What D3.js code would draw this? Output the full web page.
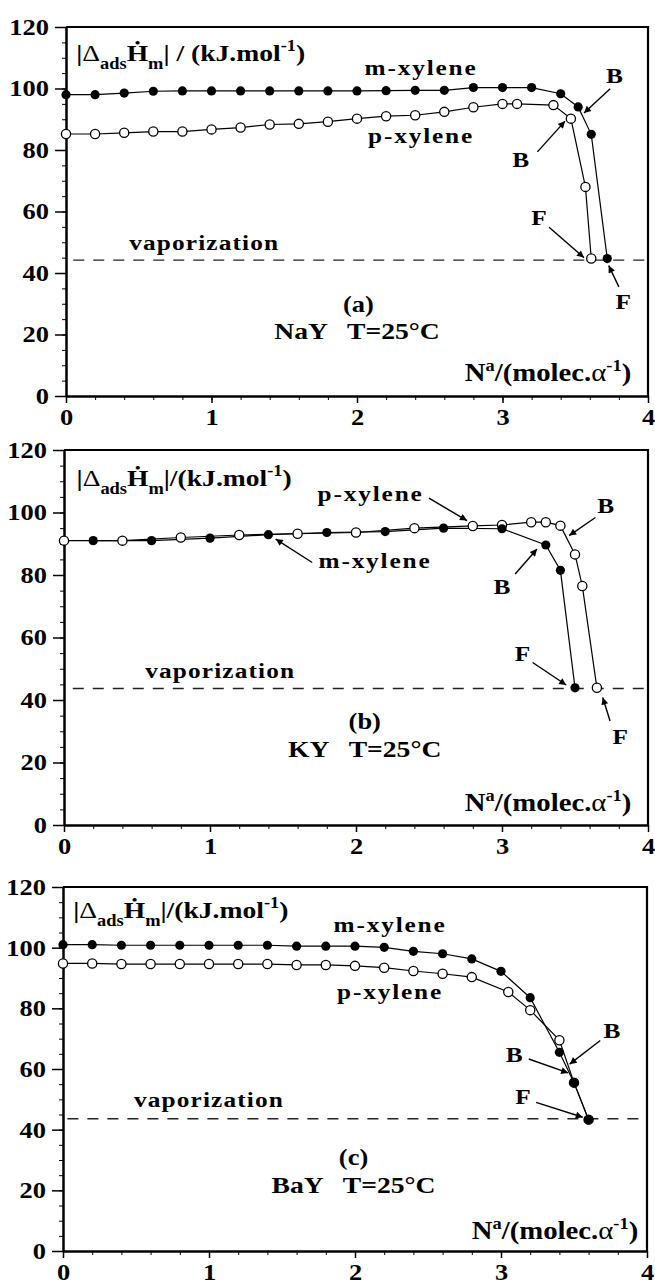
<!DOCTYPE html>
<html>
<head>
<meta charset="utf-8">
<script src="https://cdn.jsdelivr.net/npm/d3@7"></script>
<style>
  body { margin: 0; background: #fff; }
  svg { display: block; }
  text { font-family: "Liberation Serif", "Times New Roman", serif; font-weight: bold; fill: #000; }
</style>
</head>
<body>
<svg id="chart" width="655" height="1285"></svg>
<script>
// ---- data ----
// (a) NaY
const naY_mX = [0, 0.2, 0.4, 0.6, 0.8, 1.0, 1.2, 1.4, 1.6, 1.8, 2.0, 2.2, 2.4, 2.6, 2.8, 3.0, 3.2, 3.4, 3.52, 3.61, 3.72];
const naY_mY = [98, 98, 98.5, 99.1, 99.2, 99.2, 99.2, 99.2, 99.2, 99.2, 99.2, 99.3, 99.4, 99.4, 100.3, 100.3, 100.3, 98.3, 94, 85.1, 44.7];
const naY_pX = [0, 0.2, 0.4, 0.6, 0.8, 1.0, 1.2, 1.4, 1.6, 1.8, 2.0, 2.2, 2.4, 2.6, 2.8, 3.0, 3.1, 3.35, 3.47, 3.57, 3.61];
const naY_pY = [85.2, 85.2, 85.6, 86, 86, 86.7, 87.3, 88.3, 88.5, 89.2, 90.2, 91, 91.3, 92.4, 93.9, 95, 95, 94.6, 90.2, 68, 44.7];

// (b) KY
const kY_mX = [0.2, 0.6, 1.0, 1.4, 1.8, 2.2, 2.6, 3.0, 3.3, 3.4, 3.5];
const kY_mY = [91, 91, 91.8, 92.9, 93.6, 93.9, 95, 94.8, 89.6, 81.5, 43.9];
const kY_pX = [0, 0.4, 0.8, 1.2, 1.6, 2.0, 2.4, 2.8, 3.0, 3.2, 3.3, 3.4, 3.5, 3.55, 3.65];
const kY_pY = [91, 91, 92, 92.8, 93.2, 93.6, 95, 95.7, 96, 96.9, 96.9, 95.8, 86.6, 76.5, 43.9];

// (c) BaY
const baY_mX = [0, 0.2, 0.4, 0.6, 0.8, 1.0, 1.2, 1.4, 1.6, 1.8, 2.0, 2.2, 2.4, 2.6, 2.8, 3.0, 3.2, 3.4, 3.5, 3.6];
const baY_mY = [101, 101, 100.8, 100.8, 100.8, 100.8, 100.8, 100.8, 100.5, 100.5, 100.5, 100.1, 98.8, 98, 96.3, 92.2, 83.5, 65.5, 55.5, 43.3];
const baY_pX = [0, 0.2, 0.4, 0.6, 0.8, 1.0, 1.2, 1.4, 1.6, 1.8, 2.0, 2.2, 2.4, 2.6, 2.8, 3.05, 3.2, 3.4, 3.5, 3.6];
const baY_pY = [94.8, 94.8, 94.6, 94.6, 94.6, 94.6, 94.6, 94.6, 94.3, 94.3, 94, 93.4, 92.3, 91.4, 90.3, 85.4, 79.4, 69.5, 55.5, 43.3];

const vaporization = [44.2, 43.7, 43.6];
const xTicks = [0, 1, 2, 3, 4];
const yTicks = [0, 20, 40, 60, 80, 100, 120];

// ---- layout ----
const SX = 1.15;   // the scanned lettering is a bit wider than Times
const zip = (xs, ys) => xs.map((v, i) => ({ x: v, y: ys[i] }));

const panels = [
  {
    tag: "(a)", cation: "NaY", vap: vaporization[0], vapStart: 0.05, spaced: true,
    m: zip(naY_mX, naY_mY), p: zip(naY_pX, naY_pY),
    box: { left: 66, right: 648, top: 27, bottom: 396 },
    ylab: [0.07, 109], xlab: [3.885, 5], tagPos: [2.01, 27.2], catPos: [2.0, 18.5], vapPos: [0.95, 47.6],
    texts: [["m-xylene", 2.44, 104.5], ["p-xylene", 2.44, 82.3], ["B", 3.77, 101.7], ["B", 3.125, 74.5], ["F", 3.25, 55.7], ["F", 3.83, 28.2]],
    arrows: [[3.74, 99.9, 3.56, 92.0], [3.24, 79.4, 3.43, 89.4], [3.32, 54.9, 3.56, 45.0], [3.80, 35.5, 3.73, 42.4]]
  },
  {
    tag: "(b)", cation: "KY", vap: vaporization[1], vapStart: 0.06, spaced: false,
    m: zip(kY_mX, kY_mY), p: zip(kY_pX, kY_pY),
    box: { left: 64, right: 648, top: 450, bottom: 825 },
    ylab: [0.086, 108.6], xlab: [3.886, 4.5], tagPos: [2.06, 30.6], catPos: [2.06, 21.8], vapPos: [1.07, 47.2],
    texts: [["p-xylene", 2.1, 103.8], ["m-xylene", 2.13, 82.4], ["B", 3.71, 100], ["B", 3.0, 73.9], ["F", 3.14, 52.5], ["F", 3.81, 25.8]],
    arrows: [[2.5, 104.6, 2.76, 97.4], [1.7, 84, 1.45, 91.5], [3.64, 98.4, 3.46, 92.6], [3.09, 80.3, 3.24, 88.3], [3.21, 52, 3.44, 44.8], [3.74, 33.3, 3.69, 40.8]]
  },
  {
    tag: "(c)", cation: "BaY", vap: vaporization[2], vapStart: 0.03, spaced: false,
    m: zip(baY_mX, baY_mY), p: zip(baY_pX, baY_pY),
    box: { left: 63, right: 647, top: 887, bottom: 1251 },
    ylab: [0.07, 109.8], xlab: [3.94, 3.8], tagPos: [1.99, 28.2], catPos: [1.99, 19.2], vapPos: [1.0, 47.4],
    texts: [["m-xylene", 2.24, 105.3], ["p-xylene", 2.24, 83.1], ["B", 3.76, 70.2], ["B", 3.09, 62.4], ["F", 3.15, 48.4]],
    arrows: [[3.68, 69.4, 3.47, 61.6], [3.19, 63.3, 3.46, 58.7], [3.24, 49, 3.56, 44.1]]
  }
];

const svg = d3.select("#chart");

svg.append("defs").append("marker")
  .attr("id", "arrow")
  .attr("viewBox", "0 0 10 10")
  .attr("refX", 10).attr("refY", 5)
  .attr("markerWidth", 11).attr("markerHeight", 7)
  .attr("markerUnits", "userSpaceOnUse")
  .attr("orient", "auto")
  .append("path").attr("d", "M0,0L10,5L0,10z").attr("fill", "#000");

function label(g, px, py, size, anchor) {
  return g.append("text")
    .attr("transform", `translate(${px},${py}) scale(${SX},1)`)
    .attr("text-anchor", anchor || "middle")
    .style("font-size", size + "px");
}

panels.forEach(p => {
  const x = d3.scaleLinear().domain([0, 4]).range([p.box.left, p.box.right]);
  const y = d3.scaleLinear().domain([0, 120]).range([p.box.bottom, p.box.top]);
  const g = svg.append("g");

  // minor ticks
  g.append("g")
    .attr("transform", `translate(0,${y(0)})`)
    .call(d3.axisBottom(x).tickValues(d3.range(0, 4.01, 0.2)).tickSize(4).tickSizeOuter(0).tickFormat(""))
    .call(a => a.select(".domain").remove());
  g.append("g")
    .attr("transform", `translate(${x(0)},0)`)
    .call(d3.axisLeft(y).tickValues(d3.range(0, 120.1, 5)).tickSize(4).tickSizeOuter(0).tickFormat(""))
    .call(a => a.select(".domain").remove());

  // major ticks + labels
  const xa = g.append("g")
    .attr("transform", `translate(0,${y(0)})`)
    .call(d3.axisBottom(x).tickValues(xTicks).tickSize(7).tickSizeOuter(0).tickPadding(6).tickFormat(d3.format("d")));
  const ya = g.append("g")
    .attr("transform", `translate(${x(0)},0)`)
    .call(d3.axisLeft(y).tickValues(yTicks).tickSize(11).tickSizeOuter(0).tickFormat(d3.format("d")));
  [xa, ya].forEach(a => {
    a.selectAll("line").attr("stroke", "#000").attr("stroke-width", 1.5);
    a.select(".domain").attr("stroke", "#000").attr("stroke-width", 2.5);
    a.selectAll("text").style("font-size", "23px").attr("fill", "#000");
  });
  xa.selectAll("text").attr("transform", `scale(${SX},1)`);
  ya.selectAll("text").attr("x", 0).attr("transform", `translate(-17,0) scale(${SX},1)`);

  // frame top and right
  g.append("path")
    .attr("d", `M${x(0)},${y(120)}H${x(4)}V${y(0)}`)
    .attr("fill", "none").attr("stroke", "#000").attr("stroke-width", 2.2);

  // vaporization line
  g.append("line")
    .attr("x1", x(p.vapStart)).attr("x2", x(4))
    .attr("y1", y(p.vap)).attr("y2", y(p.vap))
    .attr("stroke", "#222").attr("stroke-width", 1.4)
    .attr("stroke-dasharray", "11,9");

  const line = d3.line().x(d => x(d.x)).y(d => y(d.y));
  [p.p, p.m].forEach(s => {
    g.append("path").datum(s).attr("d", line)
      .attr("fill", "none").attr("stroke", "#000").attr("stroke-width", 1.2);
  });
  g.selectAll(".open").data(p.p).join("circle").attr("class", "open")
    .attr("cx", d => x(d.x)).attr("cy", d => y(d.y)).attr("r", 4.6)
    .attr("fill", "#fff").attr("stroke", "#000").attr("stroke-width", 1.3);
  g.selectAll(".filled").data(p.m).join("circle").attr("class", "filled")
    .attr("cx", d => x(d.x)).attr("cy", d => y(d.y)).attr("r", 4.6)
    .attr("fill", "#000");

  // arrows
  p.arrows.forEach(a => {
    g.append("line")
      .attr("x1", x(a[0])).attr("y1", y(a[1]))
      .attr("x2", x(a[2])).attr("y2", y(a[3]))
      .attr("stroke", "#000").attr("stroke-width", 1.4)
      .attr("marker-end", "url(#arrow)");
  });

  // texts
  p.texts.forEach(t => {
    label(g, x(t[1]), y(t[2]), 22).style("letter-spacing", t[0].length > 1 ? "1.6px" : null).text(t[0]);
  });
  label(g, x(p.vapPos[0]), y(p.vapPos[1]), 22).style("letter-spacing", "1px").text("vaporization");
  label(g, x(p.tagPos[0]), y(p.tagPos[1]), 23).text(p.tag);
  label(g, x(p.catPos[0]), y(p.catPos[1]), 24).style("white-space", "pre").text(p.cation + "   T=25°C");

  // y quantity label
  const yl = label(g, x(p.ylab[0]), y(p.ylab[1]), 24, "start").style("white-space", "pre");
  yl.append("tspan").text("|");
  yl.append("tspan").style("font-weight", "normal").text("Δ");
  yl.append("tspan").attr("dy", 8).style("font-size", "16px").text("ads");
  yl.append("tspan").attr("dy", -8).text("Ḣ");
  yl.append("tspan").attr("dy", 8).style("font-size", "16px").text("m");
  yl.append("tspan").attr("dy", -8).text(p.spaced ? "| / (kJ.mol" : "|/(kJ.mol");
  yl.append("tspan").attr("dy", -10).style("font-size", "16px").text("-1");
  yl.append("tspan").attr("dy", 10).text(")");

  // x quantity label
  const xl = label(g, x(p.xlab[0]), y(p.xlab[1]), 25, "end");
  xl.append("tspan").text("N");
  xl.append("tspan").attr("dy", -10).style("font-size", "16px").text("a");
  xl.append("tspan").attr("dy", 10).text("/(molec.");
  xl.append("tspan").style("font-weight", "normal").text("α");
  xl.append("tspan").attr("dy", -10).style("font-size", "16px").text("-1");
  xl.append("tspan").attr("dy", 10).text(")");
});
</script>
</body>
</html>
